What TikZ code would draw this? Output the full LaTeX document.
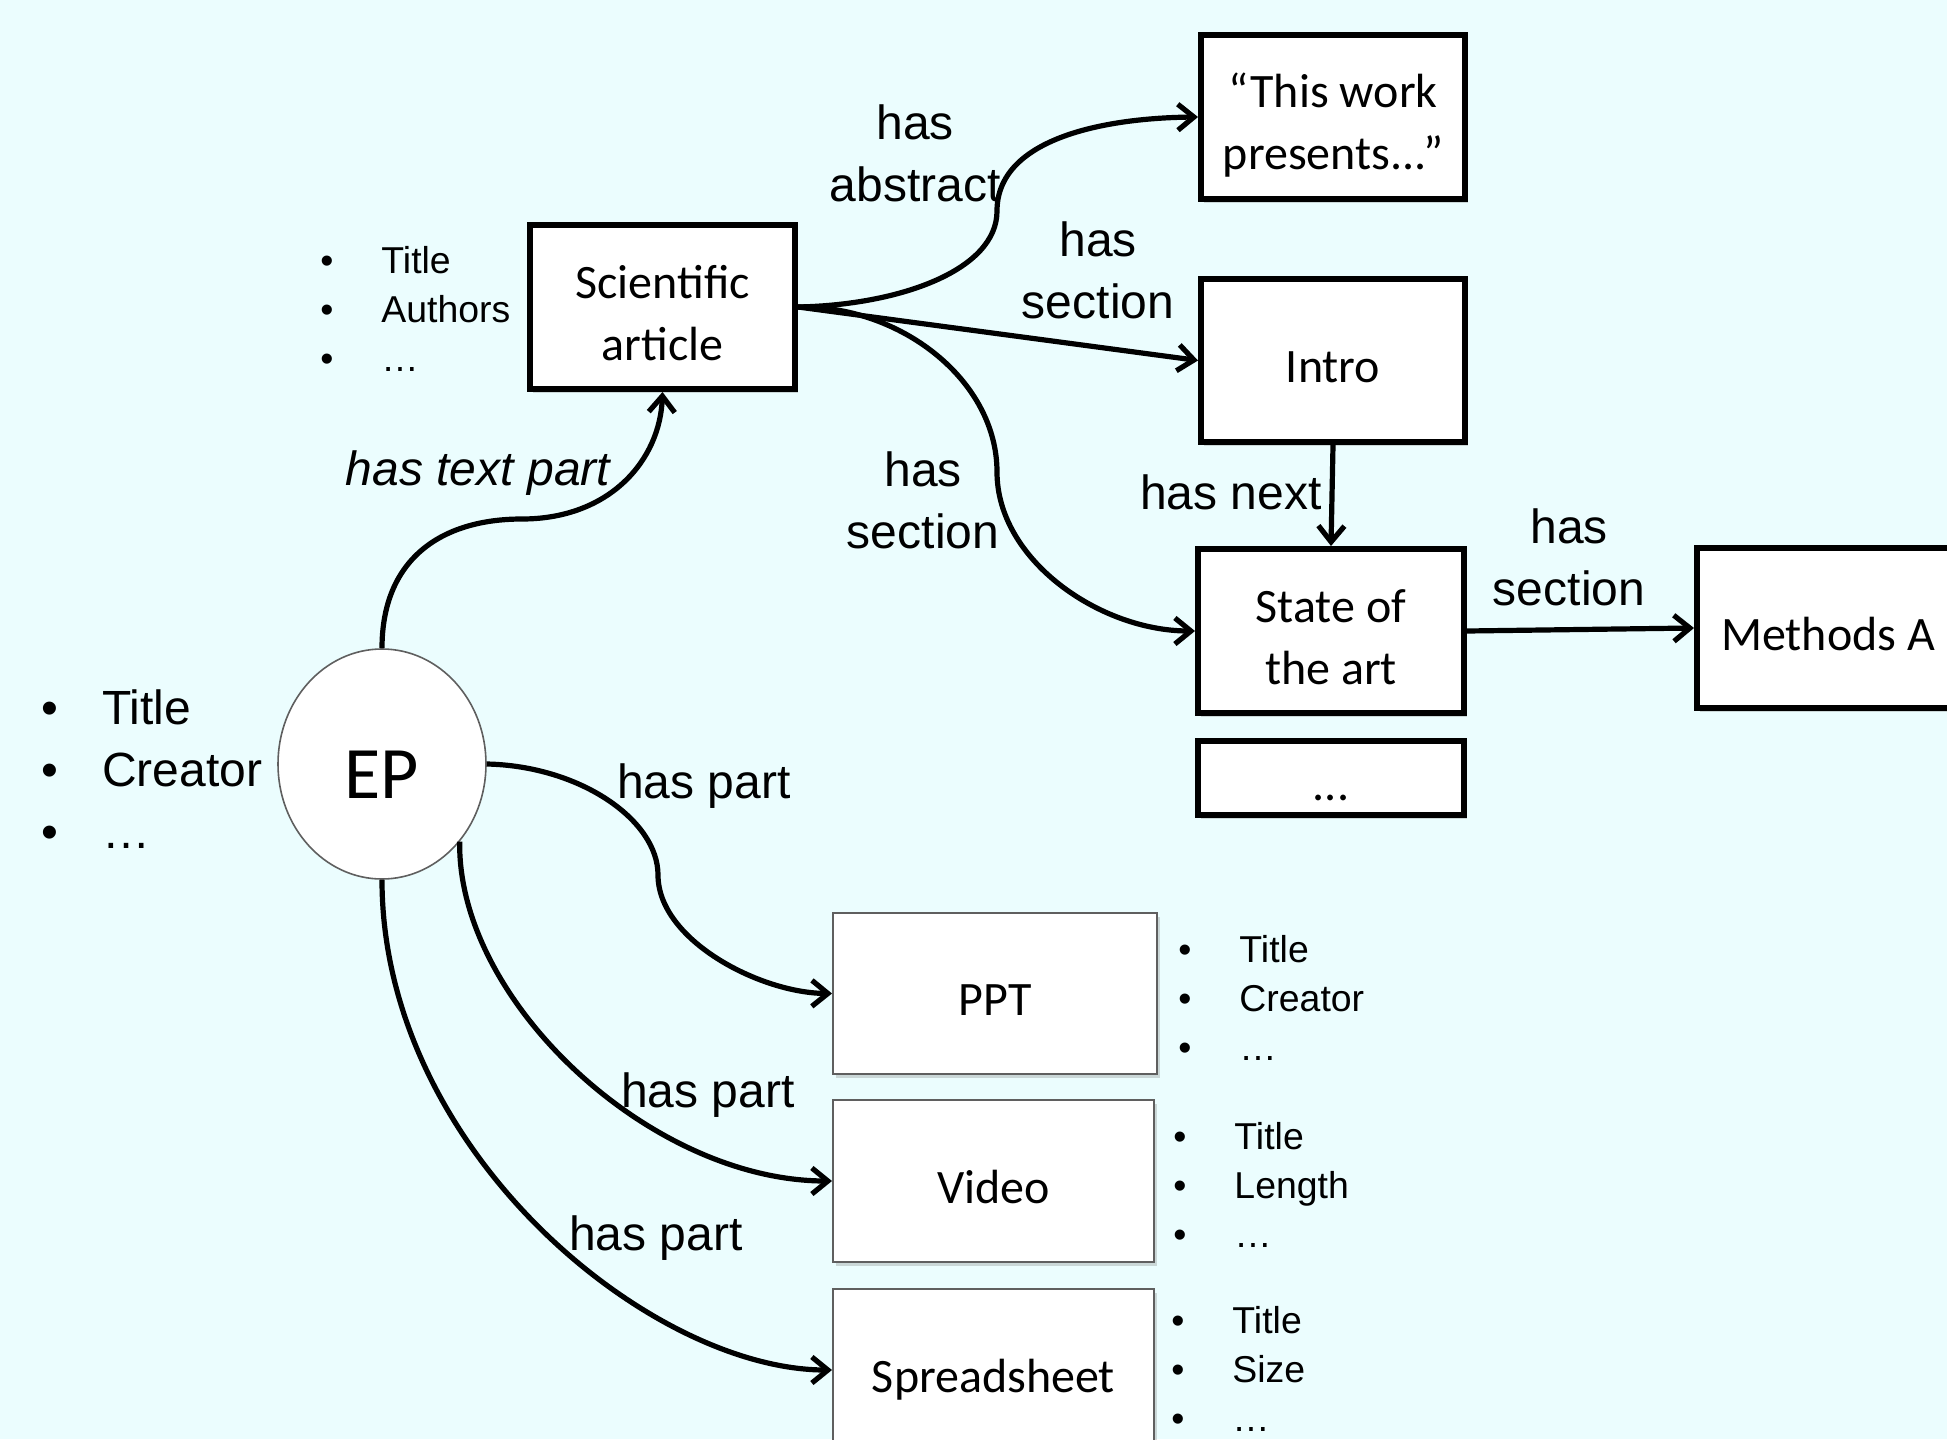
\documentclass[tikz,border=0pt]{standalone}
\usepackage{fontspec}
\setmainfont{Carlito}
\newfontfamily\arialfont{Liberation Sans}
\usetikzlibrary{arrows.meta,shapes.geometric,shadows}

\definecolor{bgcyan}{RGB}{235,253,254}
\definecolor{framegray}{RGB}{95,95,95}

% box text sits a little low, as in the slide
\newcommand\boxtext[1]{\raisebox{-4.8pt}[\height][\depth]{\begin{tabular}{@{}c@{}}#1\end{tabular}}}
\newcommand\proplist[4][24pt]{\begin{tabular}{@{}l@{\hspace{#1}}l@{}}•&#2\\•&#3\\•&#4\end{tabular}}

\tikzset{
  box/.style={draw, line width=3pt, fill=white, inner sep=0pt,
    font=\fontsize{24}{31}\selectfont,
    drop shadow={shadow xshift=1.5pt, shadow yshift=-2pt, opacity=.3}},
  thinbox/.style={box, draw=framegray, line width=1pt},
  rel/.style={line width=2.6pt, -{Straight Barb[length=8pt,width=13pt]}},
  lbl/.style={font=\arialfont\fontsize{24}{31}\selectfont, align=center, inner sep=0pt},
  props/.style={font=\arialfont\fontsize{18.7}{24.5}\selectfont, anchor=west, inner sep=0pt},
}

\begin{document}
\begin{tikzpicture}[x=0.5pt,y=0.5pt,yscale=-1,xscale=1]
        \useasboundingbox (0,0) rectangle (1947,1439);
        \clip (0,0) rectangle (1947,1439);
        \fill[bgcyan] (0,0) rectangle (1947,1439);

        % Shapes
        \node[box, minimum width=132.5pt, minimum height=82pt] (sci) at (662.5,307) {\boxtext{Scientific\\article}};
        \node[box, minimum width=132pt, minimum height=82pt] (abs) at (1333,117) {\boxtext{“This work\\presents...”}};
        \node[box, minimum width=132pt, minimum height=81.5pt] (intro) at (1333,360.5) {\boxtext{Intro}};
        \node[box, minimum width=133pt, minimum height=82pt] (sota) at (1331,631) {\boxtext{State of\\the art}};
        \node[box, minimum width=133pt, minimum height=37pt] (more) at (1331,778) {\boxtext{...}};
        \node[box, minimum width=131pt, minimum height=80pt] (methods) at (1828,628) {\boxtext{Methods A}};
        \node[thinbox, minimum width=162pt, minimum height=80.5pt] (ppt) at (995,993.5) {\boxtext{PPT}};
        \node[thinbox, minimum width=160.5pt, minimum height=81pt] (video) at (993.5,1181) {\boxtext{Video}};
        \node[thinbox, minimum width=160.5pt, minimum height=81pt] (sheet) at (993.5,1370) {\boxtext{Spreadsheet}};
        \node[ellipse, draw=framegray, line width=0.8pt, fill=white, inner sep=0pt,
              minimum width=104pt, minimum height=115pt, font=\fontsize{37}{44}\selectfont] (ep) at (382,764) {\raisebox{-5.5pt}[\height][\depth]{EP}};

        % Property lists
        \node[props] (sciprops) at (320,313) {\proplist{Title}{Authors}{…}};
        \node[props, font=\arialfont\fontsize{24}{31}\selectfont] (epprops) at (41,774) {\proplist[22pt]{Title}{Creator}{…}};
        \node[props] (pptprops) at (1178,1002) {\proplist{Title}{Creator}{…}};
        \node[props] (videoprops) at (1173,1189) {\proplist{Title}{Length}{…}};
        \node[props] (sheetprops) at (1171,1373) {\proplist{Title}{Size}{…}};

        % Connectors
        \draw[rel] (ep.north) .. controls (382,560) and (440,519) .. (522,519) .. controls (610,519) and (660,460) .. (sci.south);
        \draw[rel] (sci.east) .. controls (900,305) and (997,270) .. (997,211) .. controls (997,140) and (1100,118) .. (abs.west);
        \draw[rel] (sci.east) -- (intro.west);
        \draw[rel] (sci.east) .. controls (900,305) and (997,380) .. (997,472) .. controls (997,560) and (1100,631) .. (sota.west);
        \draw[rel] (intro.south) -- (sota.north);
        \draw[rel] (sota.east) -- (methods.west);
        \draw[rel] (ep.east) .. controls (580,766) and (658,820) .. (658,875) .. controls (658,940) and (760,993) .. (ppt.west);
        \draw[rel] (ep.-45) .. controls (457,1000) and (650,1181) .. (video.west);
        \draw[rel] (ep.south) .. controls (382,1150) and (650,1370) .. (sheet.west);

        % Text Node
        \node[lbl, font=\arialfont\itshape\fontsize{24}{31}\selectfont] (textlbl) at (478,473) {has text part};
        \node[lbl] (abslbl) at (915,153) {has\\abstract};
        \node[lbl] (introlbl) at (1098,270) {has\\section};
        \node[lbl] (sotalbl) at (923,500) {has\\section};
        \node[lbl] (nextlbl) at (1231,492) {has next};
        \node[lbl] (methodslbl) at (1569,557) {has\\section};
        \node[lbl] (pptlbl) at (704,786) {has part};
        \node[lbl] (videolbl) at (708,1095) {has part};
        \node[lbl] (sheetlbl) at (656,1238) {has part};
\end{tikzpicture}
\end{document}
